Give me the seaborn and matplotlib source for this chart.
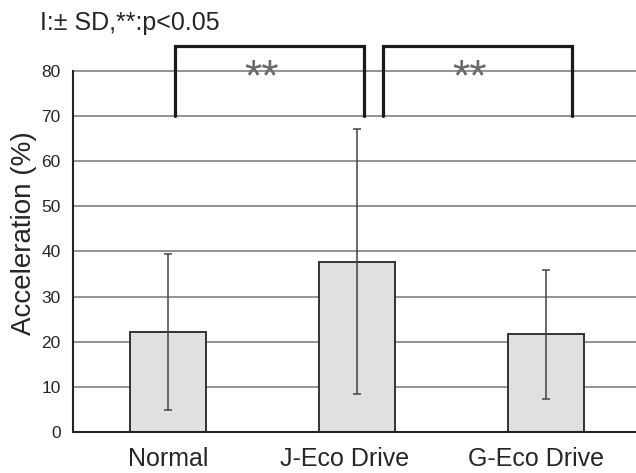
import seaborn as sns
import matplotlib.pyplot as plt
import matplotlib.transforms as mtrans
import pandas as pd

# data
groups = ["Normal", "J-Eco Drive", "G-Eco Drive"]
means = [22.1, 37.7, 21.6]
sds = [17.3, 29.4, 14.3]
sig_pairs = [(0, 1), (1, 2)]
sig_labels = ["**", "**"]
bracket_low = 70
bracket_high = 85.5

df = pd.DataFrame({"group": groups, "accel": means})

sns.set_theme(style="white")
plt.rcParams["font.family"] = ["Liberation Sans", "DejaVu Sans"]

fig = plt.figure(figsize=(6.36, 4.73), dpi=100)
ax = fig.add_axes([0.115, 0.087, 0.885, 0.839])

# grid lines behind the bars
for v in range(10, 90, 10):
    ax.axhline(v, color="#8a8a8a", lw=1.3, zorder=0)

sns.barplot(data=df, x="group", y="accel", color="#e0e0e0", width=0.4,
            edgecolor="#333333", linewidth=1.4, errorbar=None, ax=ax, zorder=2)
ax.errorbar(range(len(groups)), means, yerr=sds, fmt="none", ecolor="#444444",
            elinewidth=1.1, capsize=3, capthick=1.1, zorder=3)

# significance brackets
for (a, b), lab in zip(sig_pairs, sig_labels):
    xa = a + 0.037 + (0.1 if a > 0 else 0)
    xb = b + 0.036 + (0.1 if a > 0 else 0)
    ax.plot([xa, xa, xb, xb], [bracket_low, bracket_high, bracket_high, bracket_low],
            color="#1a1a1a", lw=2.3, zorder=4, solid_joinstyle="miter")
    ax.text((xa + xb) / 2 - 0.04, 75.8, lab, ha="center", va="baseline",
            fontsize=32, color="#6a6a6a", zorder=5)

ax.set_xlim(-0.5, 2.475)
ax.set_ylim(0, 88)
ax.set_yticks(range(0, 90, 10))
ax.set_xticks([0.5, 1.5], minor=True)
ax.tick_params(axis="x", which="major", length=0, pad=11, labelsize=18)
ax.tick_params(axis="x", which="minor", direction="in", length=4, width=1, color="#333333")
ax.tick_params(axis="y", length=0, pad=9, labelsize=12.5)
ax.set_xlabel("")
ax.set_ylabel("Acceleration (%)", fontsize=20, labelpad=3)

# category labels sit a little left of the bar centres
for lab, dx in zip(ax.get_xticklabels(), [0, -12, -10]):
    lab.set_transform(lab.get_transform() + mtrans.ScaledTranslation(dx / 100, 0, fig.dpi_scale_trans))

for s in ["top", "right"]:
    ax.spines[s].set_visible(False)
for s in ["left", "bottom"]:
    ax.spines[s].set_color("#222222")
    ax.spines[s].set_linewidth(1.5)
ax.spines["left"].set_bounds(0, 80)

fig.text(0.063, 0.925, "I:\u00b1 SD,**:p<0.05", fontsize=18, ha="left", va="bottom")

fig.savefig("out.png", dpi=100)
